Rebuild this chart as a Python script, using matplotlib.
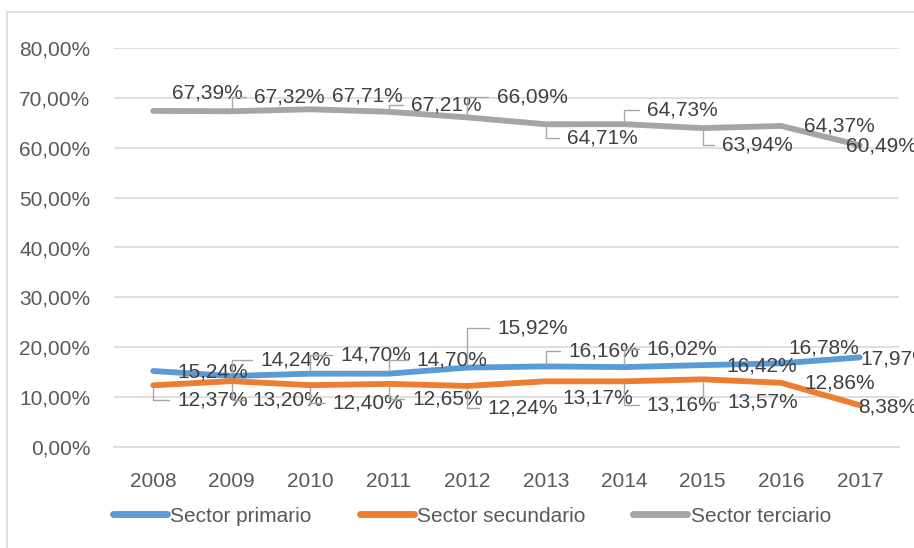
import matplotlib.pyplot as plt
from matplotlib.patches import Rectangle

# Datos
anios = ["2008", "2009", "2010", "2011", "2012", "2013", "2014", "2015", "2016", "2017"]
primario = [15.24, 14.24, 14.70, 14.70, 15.92, 16.16, 16.02, 16.42, 16.78, 17.97]
secundario = [12.37, 13.20, 12.40, 12.65, 12.24, 13.17, 13.16, 13.57, 12.86, 8.38]
terciario = [67.39, 67.32, 67.71, 67.21, 66.09, 64.71, 64.73, 63.94, 64.37, 60.49]
yticks = [0, 10, 20, 30, 40, 50, 60, 70, 80]

# desplazamiento de etiquetas (pixeles) y si llevan linea guia
off_ter = [(54, 18, 0), (58, 14, 1), (57, 13, 0), (58, 7, 1), (65, 20, 1),
           (57, -14, 1), (58, 14, 1), (55, -17, 1), (58, 0, 0), (22, -1, 0)]
off_pri = [(59, -1, 0), (64, 16, 1), (66, 19, 1), (63, 14, 1), (65, 40, 1),
           (58, 15, 1), (58, 18, 1), (59, -1, 0), (42, 15, 0), (36, -2, 0)]
off_sec = [(59, -15, 1), (56, -19, 1), (58, -18, 1), (59, -15, 1), (55, -22, 1),
           (52, -17, 0), (58, -24, 1), (60, -23, 1), (58, 0, 0), (28, -2, 0)]

plt.rcParams['font.family'] = ['Liberation Sans', 'DejaVu Sans']

fig = plt.figure(figsize=(9.14, 5.48), dpi=100)
ax = fig.add_axes([114 / 914, 1 - 447 / 548, (899 - 114) / 914, (447 - 48) / 548])

# marco del grafico
fig.patches.append(Rectangle((7 / 914, -0.1), 1.2, 1 - 12 / 548 + 0.1, transform=fig.transFigure,
                             fill=False, edgecolor='#d9d9d9', lw=1.2))

x = list(range(len(anios)))
series = [
    ("Sector primario", primario, '#5b9bd5', off_pri),
    ("Sector secundario", secundario, '#ed7d31', off_sec),
    ("Sector terciario", terciario, '#a5a5a5', off_ter),
]

for nombre, vals, color, offs in series:
    ax.plot(x, vals, color=color, lw=4.2, solid_capstyle='round', label=nombre, zorder=3)
    for xi, v, (dx, dy, guia) in zip(x, vals, offs):
        txt = f"{v:.2f}%".replace(".", ",")
        props = None
        if guia:
            props = dict(arrowstyle='-', color='#a6a6a6', lw=1.0, shrinkA=4, shrinkB=2,
                         relpos=(0, 0.5), connectionstyle='angle,angleA=0,angleB=90,rad=0')
        ax.annotate(txt, (xi, v), xytext=(dx, dy), textcoords='offset pixels',
                    ha='center', va='center', fontsize=15, color='#404040',
                    arrowprops=props, zorder=4, annotation_clip=False)

ax.set_xlim(-0.5, len(anios) - 0.5)
ax.set_ylim(0, 80)
ax.set_xticks(x)
ax.set_xticklabels(anios)
ax.set_yticks(yticks)
ax.set_yticklabels([f"{t},00%" for t in yticks])
ax.tick_params(axis='both', length=0, labelsize=15, colors='#595959')
ax.tick_params(axis='y', pad=17)
ax.tick_params(axis='x', pad=18)
ax.grid(axis='y', color='#d9d9d9', lw=1.2)
ax.set_axisbelow(True)
for s in ['top', 'right', 'left']:
    ax.spines[s].set_visible(False)
ax.spines['bottom'].set_color('#d9d9d9')
ax.spines['bottom'].set_linewidth(1.2)

fig.legend(loc='center', bbox_to_anchor=(472 / 914, 1 - 516 / 548), ncol=3, frameon=False,
           fontsize=15, handlelength=2.6, handletextpad=0.15, columnspacing=2.3,
           labelcolor='#595959')
for linea in fig.legends[0].get_lines():
    linea.set_linewidth(5)

fig.savefig("out.png", dpi=100)
